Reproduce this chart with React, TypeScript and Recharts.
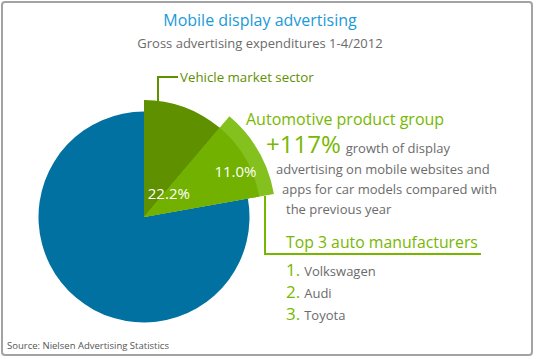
import { PieChart, Pie, Cell } from 'recharts';

// Gross advertising expenditures 1-4/2012, share of mobile display advertising (%)
const sectors = ['Vehicle market sector', 'Other sectors'];
const sectorShares = [22.2, 77.8];
const groups = ['Other vehicle advertising', 'Automotive product group', 'Other sectors'];
const groupShares = [11.2, 11.0, 77.8];
const manufacturers = ['Volkswagen', 'Audi', 'Toyota'];
const descriptionLines = [
  'advertising on mobile websites and',
  'apps for car models compared with',
  'the previous year',
];

const BLUE = '#0071a0';
const DARK_GREEN = '#5e9000';
const GREEN_INNER = '#72b100';
const GREEN_OUTER = '#84c11e';
const LABEL_GREEN = '#76b800';
const GREY = '#6b6b6b';
const FONT = '"Open Sans", sans-serif';

const sectorData = sectors.map((name, i) => ({ name, value: sectorShares[i] }));
const groupData = groups.map((name, i) => ({ name, value: groupShares[i] }));

const RAD = Math.PI / 180;
const CX = 144;
const CY = 217;

function pctLabel(index: number, dist: number, dx = 0, dy = 0) {
  return (props: any) => {
    if (props.index !== index) return null;
    const a = -props.midAngle * RAD;
    const x = props.cx + dist * Math.cos(a) + dx;
    const y = props.cy + dist * Math.sin(a) + dy;
    return (
      <text x={x} y={y} fill="#fff" fontSize={15} fontFamily={FONT} textAnchor="middle" dominantBaseline="central">
        {`${props.value.toFixed(1)}%`}
      </text>
    );
  };
}

export default function App() {
  return (
    <div style={{ position: 'absolute', left: 0, top: 0, width: 538, height: 359, background: '#fff' }}>
      <PieChart width={538} height={359} margin={{ top: 0, right: 0, bottom: 0, left: 0 }}>
        <Pie data={sectorData} dataKey="value" cx={CX} cy={CY} outerRadius={105.5} startAngle={90} endAngle={-270}
          stroke="none" isAnimationActive={false}>
          {sectorData.map((d, i) => <Cell key={d.name} fill={i === 1 ? BLUE : 'transparent'} />)}
        </Pie>
        <Pie data={sectorData} dataKey="value" cx={CX} cy={CY} outerRadius={117} startAngle={90} endAngle={-270}
          stroke="none" isAnimationActive={false} labelLine={false} label={pctLabel(0, 34, 3, 2)}>
          {sectorData.map((d, i) => <Cell key={d.name} fill={i === 0 ? DARK_GREEN : 'transparent'} />)}
        </Pie>
        <Pie data={groupData} dataKey="value" cx={CX} cy={CY} outerRadius={132} startAngle={90} endAngle={-270}
          stroke="none" isAnimationActive={false}>
          {groupData.map((d, i) => <Cell key={d.name} fill={i === 1 ? GREEN_OUTER : 'transparent'} />)}
        </Pie>
        <Pie data={groupData} dataKey="value" cx={CX} cy={CY} outerRadius={117} startAngle={90} endAngle={-270}
          stroke="none" isAnimationActive={false} labelLine={false} label={pctLabel(1, 102, 3, 5)}>
          {groupData.map((d, i) => <Cell key={d.name} fill={i === 1 ? GREEN_INNER : 'transparent'} />)}
        </Pie>
      </PieChart>
      <svg width={538} height={359} style={{ position: 'absolute', left: 0, top: 0, pointerEvents: 'none' }}
        fontFamily={FONT}>
        <rect x={2} y={2} width={530} height={353} rx={3} fill="none" stroke="#a3a3a3" strokeWidth={2} />
        <text x={260} y={26} textAnchor="middle" fontSize={16} fill="#1a9ad7">Mobile display advertising</text>
        <text x={260} y={48} textAnchor="middle" fontSize={13} fill={GREY}>Gross advertising expenditures 1-4/2012</text>

        <polyline points="158,101 158,77 178,77" fill="none" stroke={DARK_GREEN} strokeWidth={2} />
        <text x={180} y={82} fontSize={13.3} fill={DARK_GREEN}>{sectors[0]}</text>

        <text x={246} y={125} fontSize={16} fill={LABEL_GREEN}>{groups[1]}</text>
        <text x={266} y={153} fill={GREY} fontSize={13}>
          <tspan fontSize={24} fill={LABEL_GREEN}>+117%</tspan>
          <tspan dx={5}>growth of display</tspan>
        </text>
        {descriptionLines.map((line, i) => (
          <text key={line} x={[276, 282, 286][i]} y={174 + i * 20} fontSize={13} fill={GREY}>{line}</text>
        ))}

        <polyline points="265,196 265,254 481,254" fill="none" stroke={LABEL_GREEN} strokeWidth={2} />
        <text x={286} y={248} fontSize={15.8} fill={LABEL_GREEN}>Top 3 auto manufacturers</text>
        {manufacturers.map((m, i) => (
          <text key={m} x={286} y={276 + i * 22} fontSize={13} fill={GREY}>
            <tspan fontSize={17} fill={LABEL_GREEN}>{`${i + 1}.`}</tspan>
            <tspan dx={4}>{m}</tspan>
          </text>
        ))}

        <text x={7} y={349} fontSize={9.5} fill="#555">Source: Nielsen Advertising Statistics</text>
      </svg>
    </div>
  );
}
